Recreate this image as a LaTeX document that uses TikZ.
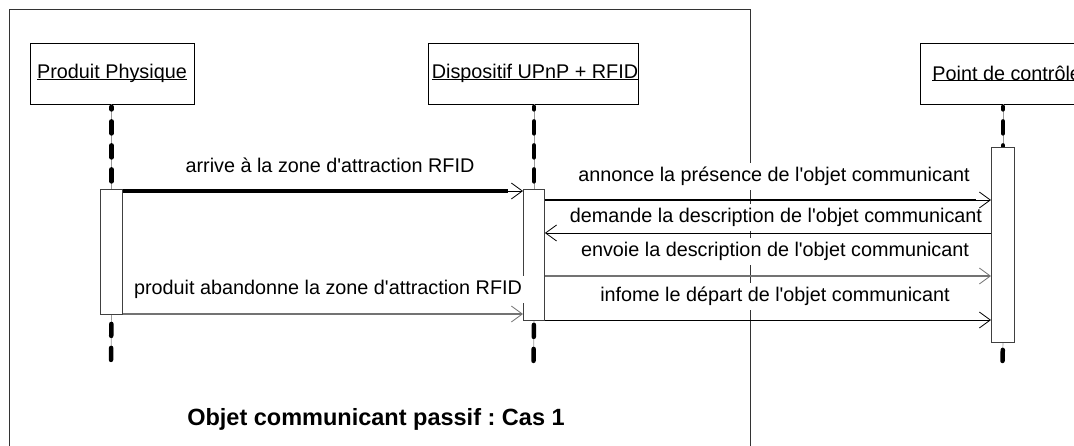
\documentclass[tikz,border=0pt]{standalone}
\usepackage{fontspec}
\setmainfont{Liberation Sans}
\usetikzlibrary{arrows.meta}
\frenchspacing
\newcommand\myul[1]{\setbox0\hbox{#1}\rlap{\rule[-1.2pt]{\wd0}{0.9pt}}\box0}
\newcommand\sq{\textquotesingle}
\begin{document}
\begin{tikzpicture}[x=1pt,y=-1pt,
  head/.style={draw=black, line width=0.8pt, fill=white, minimum width=164pt, minimum height=61pt, inner sep=0pt, font=\fontsize{19.8}{23}\selectfont},
  act/.style={draw=black!75, line width=0.9pt, fill=white, inner sep=0pt, anchor=north west},
  lifethin/.style={draw=black!40, line width=0.7pt},
  lifedash/.style={draw=black, line width=4.5pt, line cap=round, dash pattern=on 12pt off 12pt},
  msg/.style={draw=black, line width=0.9pt, -{Straight Barb[length=11pt,width=16pt,line width=0.8pt]}},
  msggrey/.style={msg, draw=black!55, line width=1.3pt},
  lbl/.style={fill=white, inner xsep=3pt, inner ysep=4pt, text height=15pt, text depth=4pt, font=\fontsize{19.8}{23}\selectfont, anchor=base},
]
\useasboundingbox (0,0) rectangle (1074,446);
\clip (0,0) rectangle (1074,446);
\fill[white] (0,0) rectangle (1074,446);
% frame
\draw[line width=0.9pt, black!80] (9,9) rectangle (750,480);
% heads
\node[head] (hP) at (112,73.5) {\myul{Produit Physique}};
\node[head] (hD) at (533.5,73.5) {\hspace*{3pt}\myul{Dispositif UPnP + RFID}};
\node[head, anchor=west, minimum width=0pt, inner xsep=12pt] (hC) at (920,73.5) {\myul{Point de contrôle}};
% activation boxes
\node[act, minimum width=22pt, minimum height=125pt] (actP) at (100,189) {};
\node[act, minimum width=21pt, minimum height=131pt] (actD) at (523,189) {};
\node[act, minimum width=23pt, minimum height=195pt] (actC) at (991,147) {};
% lifeline ends
\coordinate (eP) at (111,361);
\coordinate (eD) at (533.5,361);
\coordinate (eC) at (1002.5,361);
% lifelines (top)
\draw[lifethin] (hP.south -| actP.north) -- (actP.north);
\draw[lifethin] (hD.south -| actD.north) -- (actD.north);
\draw[lifethin] (hC.south -| actC.north) -- (actC.north);
\draw[lifedash, dash phase=9.5pt] ([yshift=-2.5pt]hP.south -| actP.north) -- (actP.north);
\draw[lifedash, dash phase=9.5pt] ([yshift=-2.5pt]hD.south -| actD.north) -- (actD.north);
\draw[lifedash, dash phase=9.5pt] ([yshift=-2.5pt]hC.south -| actC.north) -- (actC.north);
% lifelines (bottom)
\draw[lifethin] (actP.south) -- (eP);
\draw[lifethin] (actD.south) -- (eD);
\draw[lifethin] (actC.south) -- (eC);
\draw[lifedash, dash phase=15pt] (actP.south) -- (eP);
\draw[lifedash, dash phase=20pt] (actD.south) -- (eD);
\draw[lifedash, dash phase=17pt] (actC.south) -- (eC);
% redraw activation boxes on top of dashes
\node[act, minimum width=22pt, minimum height=125pt] at (100,189) {};
\node[act, minimum width=21pt, minimum height=131pt] at (523,189) {};
\node[act, minimum width=23pt, minimum height=195pt] at (991,147) {};
% row levels
\coordinate (r1) at (0,191);
\coordinate (r2) at (0,200);
\coordinate (r3) at (0,233);
\coordinate (r4) at (0,276);
\coordinate (r5) at (0,320);
\coordinate (r6) at (0,314);
% labels
\node[lbl] (l1) at (330,173) {arrive à la zone d\sq attraction RFID};
\node[lbl] (l2) at (774,182) {annonce la présence de l\sq objet communicant};
\node[lbl] (l3) at (776,223) {demande la description de l\sq objet communicant};
\node[lbl] (l4) at (775,257) {envoie la description de l\sq objet communicant};
\node[lbl] (l5) at (775,302) {infome le départ de l\sq objet communicant};
\node[lbl] (l6) at (328,295) {produit abandonne la zone d\sq attraction RFID};
% messages
\draw[line width=4.8pt, shorten >=15pt] (actP.east |- r1) -- (actD.west |- r1);
\draw[msg] (actP.east |- r1) -- (actD.west |- r1);
\draw[line width=2.2pt, shorten >=15pt] (actD.east |- r2) -- (actC.west |- r2);
\draw[msg] (actD.east |- r2) -- (actC.west |- r2);
\draw[msg] (actC.west |- r3) -- (actD.east |- r3);
\draw[msggrey] (actD.east |- r4) -- (actC.west |- r4);
\draw[msg] (actD.east |- r5) -- (actC.west |- r5);
\draw[msggrey, line width=1.1pt] (actP.east |- r6) -- (actD.west |- r6);
% title
\node[font=\bfseries\fontsize{23.5}{28}\selectfont, anchor=base] (title) at (376,425) {Objet communicant passif : Cas 1};
\end{tikzpicture}
\end{document}
